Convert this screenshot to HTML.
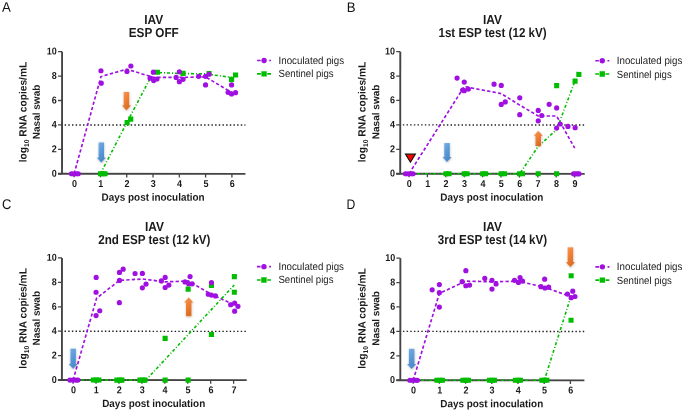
<!DOCTYPE html>
<html><head><meta charset="utf-8">
<style>
html,body{margin:0;padding:0;background:#fff;}
body{width:685px;height:411px;overflow:hidden;}
svg{display:block;filter:blur(0.3px);font-family:"Liberation Sans",sans-serif;}
.let{font-size:14px;fill:#111;}
.ttl{font-size:13px;font-weight:bold;fill:#1a1a1a;}
.yl{font-size:10.5px;font-weight:bold;fill:#1a1a1a;}
.xl{font-size:10.6px;font-weight:bold;fill:#1a1a1a;}
.tk{font-size:10px;font-weight:bold;fill:#1a1a1a;}
.lg{font-size:10.5px;fill:#222;}
</style></head><body>
<svg width="685" height="411" viewBox="0 0 685 411">
<defs>
<linearGradient id="gb" x1="0" y1="0" x2="0.6" y2="1"><stop offset="0" stop-color="#7db0e6"/><stop offset="0.5" stop-color="#5b9ad8"/><stop offset="1" stop-color="#4a86c6"/></linearGradient>
<linearGradient id="go" x1="0" y1="0" x2="0.6" y2="1"><stop offset="0" stop-color="#f39a5a"/><stop offset="0.5" stop-color="#ef7f35"/><stop offset="1" stop-color="#d9691f"/></linearGradient>
<filter id="sh" x="-50%" y="-20%" width="200%" height="150%"><feDropShadow dx="0.3" dy="0.8" stdDeviation="0.8" flood-color="#000" flood-opacity="0.25"/></filter>
</defs>
<g transform="rotate(0.03 342.5 205.5)">
<text x="1.9" y="11.9" class="let" textLength="8.8" lengthAdjust="spacingAndGlyphs">A</text>
<text x="153.7" y="23.9" class="ttl" text-anchor="middle" textLength="19" lengthAdjust="spacingAndGlyphs">IAV</text>
<text x="153.7" y="37.0" class="ttl" text-anchor="middle" textLength="50" lengthAdjust="spacingAndGlyphs">ESP OFF</text>
<text transform="translate(26.5,112.25) rotate(-90)" class="yl" text-anchor="middle" textLength="100.5" lengthAdjust="spacingAndGlyphs">log<tspan font-size="7" dy="2.5">10</tspan><tspan dy="-2.5"> RNA copies/mL</tspan></text>
<text transform="translate(39.8,112.1) rotate(-90)" class="yl" style="font-size:10.1px" text-anchor="middle" textLength="54.6" lengthAdjust="spacingAndGlyphs">Nasal swab</text>
<line x1="64.6" y1="125.10000000000001" x2="245.4" y2="125.10000000000001" stroke="#222" stroke-width="1.35" stroke-dasharray="1.45 2.22"/>
<path d="M62 51.8 V173.9" stroke="#444" stroke-width="1.9" fill="none"/>
<line x1="58" y1="173.9" x2="62" y2="173.9" stroke="#444" stroke-width="1.3"/>
<text transform="translate(56.8,176.8) scale(0.9,1)" class="tk" text-anchor="end">0</text>
<line x1="58" y1="149.48000000000002" x2="62" y2="149.48000000000002" stroke="#444" stroke-width="1.3"/>
<text transform="translate(56.8,152.38000000000002) scale(0.9,1)" class="tk" text-anchor="end">2</text>
<line x1="58" y1="125.06" x2="62" y2="125.06" stroke="#444" stroke-width="1.3"/>
<text transform="translate(56.8,127.96000000000001) scale(0.9,1)" class="tk" text-anchor="end">4</text>
<line x1="58" y1="100.64" x2="62" y2="100.64" stroke="#444" stroke-width="1.3"/>
<text transform="translate(56.8,103.54) scale(0.9,1)" class="tk" text-anchor="end">6</text>
<line x1="58" y1="76.22" x2="62" y2="76.22" stroke="#444" stroke-width="1.3"/>
<text transform="translate(56.8,79.12) scale(0.9,1)" class="tk" text-anchor="end">8</text>
<line x1="58" y1="51.8" x2="62" y2="51.8" stroke="#444" stroke-width="1.3"/>
<text transform="translate(56.8,54.699999999999996) scale(0.9,1)" class="tk" text-anchor="end">10</text>
<path d="M58 173.9 H245.4" stroke="#444" stroke-width="1.9" fill="none"/>
<line x1="74.1" y1="173.9" x2="74.1" y2="177.5" stroke="#444" stroke-width="1.3"/>
<text transform="translate(74.39999999999999,187.1) scale(0.9,1)" class="tk" text-anchor="middle">0</text>
<line x1="100.39999999999999" y1="173.9" x2="100.39999999999999" y2="177.5" stroke="#444" stroke-width="1.3"/>
<text transform="translate(100.69999999999999,187.1) scale(0.9,1)" class="tk" text-anchor="middle">1</text>
<line x1="126.69999999999999" y1="173.9" x2="126.69999999999999" y2="177.5" stroke="#444" stroke-width="1.3"/>
<text transform="translate(126.99999999999999,187.1) scale(0.9,1)" class="tk" text-anchor="middle">2</text>
<line x1="153.0" y1="173.9" x2="153.0" y2="177.5" stroke="#444" stroke-width="1.3"/>
<text transform="translate(153.3,187.1) scale(0.9,1)" class="tk" text-anchor="middle">3</text>
<line x1="179.3" y1="173.9" x2="179.3" y2="177.5" stroke="#444" stroke-width="1.3"/>
<text transform="translate(179.60000000000002,187.1) scale(0.9,1)" class="tk" text-anchor="middle">4</text>
<line x1="205.6" y1="173.9" x2="205.6" y2="177.5" stroke="#444" stroke-width="1.3"/>
<text transform="translate(205.9,187.1) scale(0.9,1)" class="tk" text-anchor="middle">5</text>
<line x1="231.9" y1="173.9" x2="231.9" y2="177.5" stroke="#444" stroke-width="1.3"/>
<text transform="translate(232.20000000000002,187.1) scale(0.9,1)" class="tk" text-anchor="middle">6</text>
<text x="153.1" y="200.9" class="xl" text-anchor="middle" textLength="103" lengthAdjust="spacingAndGlyphs">Days post inoculation</text>
<polyline points="74.1,173.9 100.9,76.7 126.9,69.3 153.3,77.5 179.3,77.5 205.5,77 231.9,92.7" fill="none" stroke="#a010e0" stroke-width="1.65" stroke-dasharray="3.3 2.2"/>
<polyline points="100.4,173.9 127.7,121 153.3,72.5 179.3,73.5 205.5,74 231.9,77.5" fill="none" stroke="#00bd00" stroke-width="1.6" stroke-dasharray="3 2 1 2"/>
<rect x="97.95" y="171.35" width="5.1" height="5.1" fill="#00bd00"/>
<rect x="100.45" y="171.35" width="5.1" height="5.1" fill="#00bd00"/>
<rect x="102.45" y="171.35" width="5.1" height="5.1" fill="#00bd00"/>
<rect x="124.55" y="120.15" width="5.1" height="5.1" fill="#00bd00"/>
<rect x="128.14999999999998" y="116.65" width="5.1" height="5.1" fill="#00bd00"/>
<rect x="154.75" y="69.75" width="5.1" height="5.1" fill="#00bd00"/>
<rect x="180.45" y="70.95" width="5.1" height="5.1" fill="#00bd00"/>
<rect x="206.45" y="70.95" width="5.1" height="5.1" fill="#00bd00"/>
<rect x="228.95" y="76.85000000000001" width="5.1" height="5.1" fill="#00bd00"/>
<rect x="232.95" y="72.45" width="5.1" height="5.1" fill="#00bd00"/>
<circle cx="71.5" cy="173.9" r="2.6" fill="#a010e0"/>
<circle cx="74" cy="173.9" r="2.6" fill="#a010e0"/>
<circle cx="76.5" cy="173.9" r="2.6" fill="#a010e0"/>
<circle cx="78.2" cy="173.9" r="2.6" fill="#a010e0"/>
<circle cx="100.9" cy="70.9" r="2.6" fill="#a010e0"/>
<circle cx="101.2" cy="83.3" r="2.6" fill="#a010e0"/>
<circle cx="126.9" cy="71.6" r="2.6" fill="#a010e0"/>
<circle cx="130.8" cy="66.1" r="2.6" fill="#a010e0"/>
<circle cx="153.3" cy="72.3" r="2.6" fill="#a010e0"/>
<circle cx="150" cy="78.3" r="2.6" fill="#a010e0"/>
<circle cx="153.6" cy="80.7" r="2.6" fill="#a010e0"/>
<circle cx="156.9" cy="79.1" r="2.6" fill="#a010e0"/>
<circle cx="179.3" cy="71.9" r="2.6" fill="#a010e0"/>
<circle cx="176.1" cy="77.5" r="2.6" fill="#a010e0"/>
<circle cx="179.3" cy="81.8" r="2.6" fill="#a010e0"/>
<circle cx="183" cy="79.4" r="2.6" fill="#a010e0"/>
<circle cx="198.6" cy="76.4" r="2.6" fill="#a010e0"/>
<circle cx="205.5" cy="76.4" r="2.6" fill="#a010e0"/>
<circle cx="209" cy="74.3" r="2.6" fill="#a010e0"/>
<circle cx="205.5" cy="85" r="2.6" fill="#a010e0"/>
<circle cx="231.5" cy="85" r="2.6" fill="#a010e0"/>
<circle cx="228" cy="92.4" r="2.6" fill="#a010e0"/>
<circle cx="231.5" cy="94" r="2.6" fill="#a010e0"/>
<circle cx="235.5" cy="92.7" r="2.6" fill="#a010e0"/>
<path d="M98.55 142.4 H104.05 V157.8 H105.89999999999999 L101.3 162.8 L96.7 157.8 H98.55 Z" fill="url(#gb)" filter="url(#sh)"/>
<path d="M123.65 92.1 H129.15 V105.5 H131.0 L126.4 110.5 L121.80000000000001 105.5 H123.65 Z" fill="url(#go)" filter="url(#sh)"/>

<line x1="257" y1="60.6" x2="271" y2="60.6" stroke="#a010e0" stroke-width="1.6" stroke-dasharray="3.6 8.6 1.8"/>
<circle cx="264" cy="60.6" r="2.7" fill="#a010e0"/>
<text x="278.5" y="64.1" class="lg" textLength="65.5" lengthAdjust="spacingAndGlyphs">Inoculated pigs</text>
<line x1="257" y1="73.9" x2="271" y2="73.9" stroke="#00bd00" stroke-width="1.6" stroke-dasharray="3.8 6.4 3.8"/>
<rect x="261.3" y="71.2" width="5.4" height="5.4" fill="#00bd00"/>
<text x="278.5" y="77.4" class="lg" textLength="55" lengthAdjust="spacingAndGlyphs">Sentinel pigs</text>
<text x="346.6" y="11.9" class="let" textLength="8.8" lengthAdjust="spacingAndGlyphs">B</text>
<text x="492.45000000000005" y="23.9" class="ttl" text-anchor="middle" textLength="19" lengthAdjust="spacingAndGlyphs">IAV</text>
<text x="492.45000000000005" y="37.0" class="ttl" text-anchor="middle" textLength="108.2" lengthAdjust="spacingAndGlyphs">1st ESP test (12 kV)</text>
<text transform="translate(365.5,112.04999999999998) rotate(-90)" class="yl" text-anchor="middle" textLength="100.5" lengthAdjust="spacingAndGlyphs">log<tspan font-size="7" dy="2.5">10</tspan><tspan dy="-2.5"> RNA copies/mL</tspan></text>
<text transform="translate(379.2,111.89999999999998) rotate(-90)" class="yl" style="font-size:10.1px" text-anchor="middle" textLength="54.6" lengthAdjust="spacingAndGlyphs">Nasal swab</text>
<line x1="402.8" y1="124.89999999999999" x2="584.7" y2="124.89999999999999" stroke="#222" stroke-width="1.35" stroke-dasharray="1.45 2.22"/>
<path d="M400.2 51.59999999999998 V173.7" stroke="#444" stroke-width="1.9" fill="none"/>
<line x1="396.2" y1="173.7" x2="400.2" y2="173.7" stroke="#444" stroke-width="1.3"/>
<text transform="translate(395.0,176.6) scale(0.9,1)" class="tk" text-anchor="end">0</text>
<line x1="396.2" y1="149.27999999999997" x2="400.2" y2="149.27999999999997" stroke="#444" stroke-width="1.3"/>
<text transform="translate(395.0,152.17999999999998) scale(0.9,1)" class="tk" text-anchor="end">2</text>
<line x1="396.2" y1="124.85999999999999" x2="400.2" y2="124.85999999999999" stroke="#444" stroke-width="1.3"/>
<text transform="translate(395.0,127.75999999999999) scale(0.9,1)" class="tk" text-anchor="end">4</text>
<line x1="396.2" y1="100.43999999999998" x2="400.2" y2="100.43999999999998" stroke="#444" stroke-width="1.3"/>
<text transform="translate(395.0,103.33999999999999) scale(0.9,1)" class="tk" text-anchor="end">6</text>
<line x1="396.2" y1="76.01999999999998" x2="400.2" y2="76.01999999999998" stroke="#444" stroke-width="1.3"/>
<text transform="translate(395.0,78.91999999999999) scale(0.9,1)" class="tk" text-anchor="end">8</text>
<line x1="396.2" y1="51.59999999999998" x2="400.2" y2="51.59999999999998" stroke="#444" stroke-width="1.3"/>
<text transform="translate(395.0,54.49999999999998) scale(0.9,1)" class="tk" text-anchor="end">10</text>
<path d="M396.2 173.7 H584.7" stroke="#444" stroke-width="1.9" fill="none"/>
<line x1="409.0" y1="173.7" x2="409.0" y2="177.29999999999998" stroke="#444" stroke-width="1.3"/>
<text transform="translate(409.3,186.89999999999998) scale(0.9,1)" class="tk" text-anchor="middle">0</text>
<line x1="427.4" y1="173.7" x2="427.4" y2="177.29999999999998" stroke="#444" stroke-width="1.3"/>
<text transform="translate(427.7,186.89999999999998) scale(0.9,1)" class="tk" text-anchor="middle">1</text>
<line x1="445.8" y1="173.7" x2="445.8" y2="177.29999999999998" stroke="#444" stroke-width="1.3"/>
<text transform="translate(446.1,186.89999999999998) scale(0.9,1)" class="tk" text-anchor="middle">2</text>
<line x1="464.2" y1="173.7" x2="464.2" y2="177.29999999999998" stroke="#444" stroke-width="1.3"/>
<text transform="translate(464.5,186.89999999999998) scale(0.9,1)" class="tk" text-anchor="middle">3</text>
<line x1="482.6" y1="173.7" x2="482.6" y2="177.29999999999998" stroke="#444" stroke-width="1.3"/>
<text transform="translate(482.90000000000003,186.89999999999998) scale(0.9,1)" class="tk" text-anchor="middle">4</text>
<line x1="501.0" y1="173.7" x2="501.0" y2="177.29999999999998" stroke="#444" stroke-width="1.3"/>
<text transform="translate(501.3,186.89999999999998) scale(0.9,1)" class="tk" text-anchor="middle">5</text>
<line x1="519.4" y1="173.7" x2="519.4" y2="177.29999999999998" stroke="#444" stroke-width="1.3"/>
<text transform="translate(519.6999999999999,186.89999999999998) scale(0.9,1)" class="tk" text-anchor="middle">6</text>
<line x1="537.8" y1="173.7" x2="537.8" y2="177.29999999999998" stroke="#444" stroke-width="1.3"/>
<text transform="translate(538.0999999999999,186.89999999999998) scale(0.9,1)" class="tk" text-anchor="middle">7</text>
<line x1="556.2" y1="173.7" x2="556.2" y2="177.29999999999998" stroke="#444" stroke-width="1.3"/>
<text transform="translate(556.5,186.89999999999998) scale(0.9,1)" class="tk" text-anchor="middle">8</text>
<line x1="574.6" y1="173.7" x2="574.6" y2="177.29999999999998" stroke="#444" stroke-width="1.3"/>
<text transform="translate(574.9,186.89999999999998) scale(0.9,1)" class="tk" text-anchor="middle">9</text>
<text x="491.85" y="200.7" class="xl" text-anchor="middle" textLength="103" lengthAdjust="spacingAndGlyphs">Days post inoculation</text>
<polyline points="409,173.7 464.2,86.5 501.2,93.5 519.6,105 538.2,115.9 556.6,115.9 574.7,148" fill="none" stroke="#a010e0" stroke-width="1.65" stroke-dasharray="3.3 2.2"/>
<polyline points="409,173.7 519.6,173.7 538.2,146.3 556.6,129.5 574.7,81.4" fill="none" stroke="#00bd00" stroke-width="1.6" stroke-dasharray="3 2 1 2"/>
<rect x="443.45" y="171.14999999999998" width="5.1" height="5.1" fill="#00bd00"/>
<rect x="446.45" y="171.14999999999998" width="5.1" height="5.1" fill="#00bd00"/>
<rect x="461.65" y="171.14999999999998" width="5.1" height="5.1" fill="#00bd00"/>
<rect x="464.45" y="171.14999999999998" width="5.1" height="5.1" fill="#00bd00"/>
<rect x="480.15" y="171.14999999999998" width="5.1" height="5.1" fill="#00bd00"/>
<rect x="482.95" y="171.14999999999998" width="5.1" height="5.1" fill="#00bd00"/>
<rect x="498.65" y="171.14999999999998" width="5.1" height="5.1" fill="#00bd00"/>
<rect x="501.95" y="171.14999999999998" width="5.1" height="5.1" fill="#00bd00"/>
<rect x="517.0500000000001" y="171.14999999999998" width="5.1" height="5.1" fill="#00bd00"/>
<rect x="519.95" y="171.14999999999998" width="5.1" height="5.1" fill="#00bd00"/>
<rect x="535.6500000000001" y="171.14999999999998" width="5.1" height="5.1" fill="#00bd00"/>
<rect x="554.0500000000001" y="171.14999999999998" width="5.1" height="5.1" fill="#00bd00"/>
<rect x="554.0500000000001" y="82.95" width="5.1" height="5.1" fill="#00bd00"/>
<rect x="572.45" y="78.45" width="5.1" height="5.1" fill="#00bd00"/>
<rect x="576.25" y="71.75" width="5.1" height="5.1" fill="#00bd00"/>
<circle cx="405.5" cy="173.7" r="2.6" fill="#a010e0"/>
<circle cx="408" cy="173.7" r="2.6" fill="#a010e0"/>
<circle cx="411" cy="173.7" r="2.6" fill="#a010e0"/>
<circle cx="413" cy="173.7" r="2.6" fill="#a010e0"/>
<circle cx="457" cy="78" r="2.6" fill="#a010e0"/>
<circle cx="464.2" cy="82" r="2.6" fill="#a010e0"/>
<circle cx="464.2" cy="90.6" r="2.6" fill="#a010e0"/>
<circle cx="468.3" cy="89" r="2.6" fill="#a010e0"/>
<circle cx="462.6" cy="90" r="2.6" fill="#a010e0"/>
<circle cx="494" cy="84.1" r="2.6" fill="#a010e0"/>
<circle cx="501.2" cy="85.3" r="2.6" fill="#a010e0"/>
<circle cx="501.2" cy="104.3" r="2.6" fill="#a010e0"/>
<circle cx="505.2" cy="101.8" r="2.6" fill="#a010e0"/>
<circle cx="519.7" cy="97.7" r="2.6" fill="#a010e0"/>
<circle cx="519.7" cy="114.6" r="2.6" fill="#a010e0"/>
<circle cx="538.2" cy="110.3" r="2.6" fill="#a010e0"/>
<circle cx="541.7" cy="115.4" r="2.6" fill="#a010e0"/>
<circle cx="538.2" cy="120.7" r="2.6" fill="#a010e0"/>
<circle cx="549.1" cy="104.2" r="2.6" fill="#a010e0"/>
<circle cx="556.6" cy="107.8" r="2.6" fill="#a010e0"/>
<circle cx="560.2" cy="123.9" r="2.6" fill="#a010e0"/>
<circle cx="556.6" cy="127.9" r="2.6" fill="#a010e0"/>
<circle cx="567.9" cy="126.3" r="2.6" fill="#a010e0"/>
<circle cx="575.1" cy="127.6" r="2.6" fill="#a010e0"/>
<circle cx="573.5" cy="173.7" r="2.6" fill="#a010e0"/>
<circle cx="575.5" cy="173.7" r="2.6" fill="#a010e0"/>
<circle cx="577.5" cy="173.7" r="2.6" fill="#a010e0"/>
<circle cx="579" cy="173.7" r="2.6" fill="#a010e0"/>
<path d="M444.25 143 H449.75 V156.9 H451.6 L447 161.9 L442.4 156.9 H444.25 Z" fill="url(#gb)" filter="url(#sh)"/>
<path d="M535.45 146.1 H540.95 V135.7 H542.8000000000001 L538.2 130.7 L533.6 135.7 H535.45 Z" fill="url(#go)" filter="url(#sh)"/>
<path d="M405.4 154.1 H415.4 L410.4 162.2 Z" fill="#ff0000" stroke="#111" stroke-width="1.1" stroke-linejoin="miter"/>
<line x1="595.2" y1="60.6" x2="609.2" y2="60.6" stroke="#a010e0" stroke-width="1.6" stroke-dasharray="3.6 8.6 1.8"/>
<circle cx="602.2" cy="60.6" r="2.7" fill="#a010e0"/>
<text x="616.7" y="64.1" class="lg" textLength="65.5" lengthAdjust="spacingAndGlyphs">Inoculated pigs</text>
<line x1="595.2" y1="73.9" x2="609.2" y2="73.9" stroke="#00bd00" stroke-width="1.6" stroke-dasharray="3.8 6.4 3.8"/>
<rect x="599.5" y="71.2" width="5.4" height="5.4" fill="#00bd00"/>
<text x="616.7" y="77.4" class="lg" textLength="55" lengthAdjust="spacingAndGlyphs">Sentinel pigs</text>
<text x="2.0" y="209.4" class="let" textLength="9.4" lengthAdjust="spacingAndGlyphs">C</text>
<text x="154.4" y="230.8" class="ttl" text-anchor="middle" textLength="19" lengthAdjust="spacingAndGlyphs">IAV</text>
<text x="154.4" y="243.9" class="ttl" text-anchor="middle" textLength="112.2" lengthAdjust="spacingAndGlyphs">2nd ESP test (12 kV)</text>
<text transform="translate(26.5,318.54999999999995) rotate(-90)" class="yl" text-anchor="middle" textLength="100.5" lengthAdjust="spacingAndGlyphs">log<tspan font-size="7" dy="2.5">10</tspan><tspan dy="-2.5"> RNA copies/mL</tspan></text>
<text transform="translate(39.8,318.4) rotate(-90)" class="yl" style="font-size:10.1px" text-anchor="middle" textLength="54.6" lengthAdjust="spacingAndGlyphs">Nasal swab</text>
<line x1="64.6" y1="331.4" x2="246.8" y2="331.4" stroke="#222" stroke-width="1.35" stroke-dasharray="1.45 2.22"/>
<path d="M62 258.09999999999997 V380.2" stroke="#444" stroke-width="1.9" fill="none"/>
<line x1="58" y1="380.2" x2="62" y2="380.2" stroke="#444" stroke-width="1.3"/>
<text transform="translate(56.8,383.09999999999997) scale(0.9,1)" class="tk" text-anchor="end">0</text>
<line x1="58" y1="355.78" x2="62" y2="355.78" stroke="#444" stroke-width="1.3"/>
<text transform="translate(56.8,358.67999999999995) scale(0.9,1)" class="tk" text-anchor="end">2</text>
<line x1="58" y1="331.36" x2="62" y2="331.36" stroke="#444" stroke-width="1.3"/>
<text transform="translate(56.8,334.26) scale(0.9,1)" class="tk" text-anchor="end">4</text>
<line x1="58" y1="306.94" x2="62" y2="306.94" stroke="#444" stroke-width="1.3"/>
<text transform="translate(56.8,309.84) scale(0.9,1)" class="tk" text-anchor="end">6</text>
<line x1="58" y1="282.52" x2="62" y2="282.52" stroke="#444" stroke-width="1.3"/>
<text transform="translate(56.8,285.41999999999996) scale(0.9,1)" class="tk" text-anchor="end">8</text>
<line x1="58" y1="258.09999999999997" x2="62" y2="258.09999999999997" stroke="#444" stroke-width="1.3"/>
<text transform="translate(56.8,260.99999999999994) scale(0.9,1)" class="tk" text-anchor="end">10</text>
<path d="M58 380.2 H246.8" stroke="#444" stroke-width="1.9" fill="none"/>
<line x1="73.2" y1="380.2" x2="73.2" y2="383.8" stroke="#444" stroke-width="1.3"/>
<text transform="translate(73.5,393.4) scale(0.9,1)" class="tk" text-anchor="middle">0</text>
<line x1="96.13" y1="380.2" x2="96.13" y2="383.8" stroke="#444" stroke-width="1.3"/>
<text transform="translate(96.42999999999999,393.4) scale(0.9,1)" class="tk" text-anchor="middle">1</text>
<line x1="119.06" y1="380.2" x2="119.06" y2="383.8" stroke="#444" stroke-width="1.3"/>
<text transform="translate(119.36,393.4) scale(0.9,1)" class="tk" text-anchor="middle">2</text>
<line x1="141.99" y1="380.2" x2="141.99" y2="383.8" stroke="#444" stroke-width="1.3"/>
<text transform="translate(142.29000000000002,393.4) scale(0.9,1)" class="tk" text-anchor="middle">3</text>
<line x1="164.92000000000002" y1="380.2" x2="164.92000000000002" y2="383.8" stroke="#444" stroke-width="1.3"/>
<text transform="translate(165.22000000000003,393.4) scale(0.9,1)" class="tk" text-anchor="middle">4</text>
<line x1="187.85000000000002" y1="380.2" x2="187.85000000000002" y2="383.8" stroke="#444" stroke-width="1.3"/>
<text transform="translate(188.15000000000003,393.4) scale(0.9,1)" class="tk" text-anchor="middle">5</text>
<line x1="210.77999999999997" y1="380.2" x2="210.77999999999997" y2="383.8" stroke="#444" stroke-width="1.3"/>
<text transform="translate(211.07999999999998,393.4) scale(0.9,1)" class="tk" text-anchor="middle">6</text>
<line x1="233.70999999999998" y1="380.2" x2="233.70999999999998" y2="383.8" stroke="#444" stroke-width="1.3"/>
<text transform="translate(234.01,393.4) scale(0.9,1)" class="tk" text-anchor="middle">7</text>
<text x="153.8" y="407.2" class="xl" text-anchor="middle" textLength="103" lengthAdjust="spacingAndGlyphs">Days post inoculation</text>
<polyline points="73.2,380.2 96.6,298.4 119.5,280.5 142.4,279.1 165.2,282 188.2,281 211.1,294.3 234.3,304.8" fill="none" stroke="#a010e0" stroke-width="1.65" stroke-dasharray="3.3 2.2"/>
<polyline points="73.2,380.2 146,380.2 234.3,285" fill="none" stroke="#00bd00" stroke-width="1.6" stroke-dasharray="3 2 1 2"/>
<rect x="90.95" y="377.65" width="5.1" height="5.1" fill="#00bd00"/>
<rect x="93.95" y="377.65" width="5.1" height="5.1" fill="#00bd00"/>
<rect x="96.45" y="377.65" width="5.1" height="5.1" fill="#00bd00"/>
<rect x="114.45" y="377.65" width="5.1" height="5.1" fill="#00bd00"/>
<rect x="117.45" y="377.65" width="5.1" height="5.1" fill="#00bd00"/>
<rect x="119.45" y="377.65" width="5.1" height="5.1" fill="#00bd00"/>
<rect x="137.45" y="377.65" width="5.1" height="5.1" fill="#00bd00"/>
<rect x="140.45" y="377.65" width="5.1" height="5.1" fill="#00bd00"/>
<rect x="142.45" y="377.65" width="5.1" height="5.1" fill="#00bd00"/>
<rect x="162.64999999999998" y="377.65" width="5.1" height="5.1" fill="#00bd00"/>
<rect x="185.64999999999998" y="377.65" width="5.1" height="5.1" fill="#00bd00"/>
<rect x="162.64999999999998" y="335.95" width="5.1" height="5.1" fill="#00bd00"/>
<rect x="208.95" y="331.95" width="5.1" height="5.1" fill="#00bd00"/>
<rect x="185.64999999999998" y="286.65" width="5.1" height="5.1" fill="#00bd00"/>
<rect x="208.95" y="282.95" width="5.1" height="5.1" fill="#00bd00"/>
<rect x="231.85" y="274.15" width="5.1" height="5.1" fill="#00bd00"/>
<rect x="231.85" y="289.75" width="5.1" height="5.1" fill="#00bd00"/>
<circle cx="70" cy="380.2" r="2.6" fill="#a010e0"/>
<circle cx="73" cy="380.2" r="2.6" fill="#a010e0"/>
<circle cx="76" cy="380.2" r="2.6" fill="#a010e0"/>
<circle cx="78" cy="380.2" r="2.6" fill="#a010e0"/>
<circle cx="96.2" cy="277.6" r="2.6" fill="#a010e0"/>
<circle cx="96.1" cy="292.4" r="2.6" fill="#a010e0"/>
<circle cx="96.1" cy="315.7" r="2.6" fill="#a010e0"/>
<circle cx="99.8" cy="310.9" r="2.6" fill="#a010e0"/>
<circle cx="119.5" cy="272.5" r="2.6" fill="#a010e0"/>
<circle cx="123.2" cy="269.3" r="2.6" fill="#a010e0"/>
<circle cx="119.5" cy="280.5" r="2.6" fill="#a010e0"/>
<circle cx="119.4" cy="302.8" r="2.6" fill="#a010e0"/>
<circle cx="142.4" cy="273.5" r="2.6" fill="#a010e0"/>
<circle cx="135.1" cy="273.6" r="2.6" fill="#a010e0"/>
<circle cx="142.4" cy="287.9" r="2.6" fill="#a010e0"/>
<circle cx="146.1" cy="284.2" r="2.6" fill="#a010e0"/>
<circle cx="161.4" cy="281" r="2.6" fill="#a010e0"/>
<circle cx="165.2" cy="277.5" r="2.6" fill="#a010e0"/>
<circle cx="165.2" cy="287.6" r="2.6" fill="#a010e0"/>
<circle cx="168.9" cy="285.2" r="2.6" fill="#a010e0"/>
<circle cx="190.1" cy="276.7" r="2.6" fill="#a010e0"/>
<circle cx="185" cy="282" r="2.6" fill="#a010e0"/>
<circle cx="188.7" cy="283.9" r="2.6" fill="#a010e0"/>
<circle cx="192.2" cy="283.9" r="2.6" fill="#a010e0"/>
<circle cx="211.5" cy="282.6" r="2.6" fill="#a010e0"/>
<circle cx="208.3" cy="294.3" r="2.6" fill="#a010e0"/>
<circle cx="211.5" cy="295.1" r="2.6" fill="#a010e0"/>
<circle cx="215.5" cy="296" r="2.6" fill="#a010e0"/>
<circle cx="230.7" cy="304.8" r="2.6" fill="#a010e0"/>
<circle cx="234.7" cy="303.2" r="2.6" fill="#a010e0"/>
<circle cx="238" cy="306.4" r="2.6" fill="#a010e0"/>
<circle cx="234.7" cy="311.2" r="2.6" fill="#a010e0"/>
<path d="M70.45 348.8 H75.95 V363.9 H77.8 L73.2 368.9 L68.60000000000001 363.9 H70.45 Z" fill="url(#gb)" filter="url(#sh)"/>
<path d="M185.95 316.2 H191.45 V302.6 H193.29999999999998 L188.7 297.6 L184.1 302.6 H185.95 Z" fill="url(#go)" filter="url(#sh)"/>

<line x1="257" y1="266.7" x2="271" y2="266.7" stroke="#a010e0" stroke-width="1.6" stroke-dasharray="3.6 8.6 1.8"/>
<circle cx="264" cy="266.7" r="2.7" fill="#a010e0"/>
<text x="278.5" y="270.2" class="lg" textLength="65.5" lengthAdjust="spacingAndGlyphs">Inoculated pigs</text>
<line x1="257" y1="280.0" x2="271" y2="280.0" stroke="#00bd00" stroke-width="1.6" stroke-dasharray="3.8 6.4 3.8"/>
<rect x="261.3" y="277.3" width="5.4" height="5.4" fill="#00bd00"/>
<text x="278.5" y="283.5" class="lg" textLength="55" lengthAdjust="spacingAndGlyphs">Sentinel pigs</text>
<text x="346.6" y="209.1" class="let" textLength="8.8" lengthAdjust="spacingAndGlyphs">D</text>
<text x="492.45" y="230.8" class="ttl" text-anchor="middle" textLength="19" lengthAdjust="spacingAndGlyphs">IAV</text>
<text x="492.45" y="243.9" class="ttl" text-anchor="middle" textLength="109.5" lengthAdjust="spacingAndGlyphs">3rd ESP test (14 kV)</text>
<text transform="translate(365.5,318.54999999999995) rotate(-90)" class="yl" text-anchor="middle" textLength="100.5" lengthAdjust="spacingAndGlyphs">log<tspan font-size="7" dy="2.5">10</tspan><tspan dy="-2.5"> RNA copies/mL</tspan></text>
<text transform="translate(379.2,318.4) rotate(-90)" class="yl" style="font-size:10.1px" text-anchor="middle" textLength="54.6" lengthAdjust="spacingAndGlyphs">Nasal swab</text>
<line x1="403.0" y1="331.4" x2="584.5" y2="331.4" stroke="#222" stroke-width="1.35" stroke-dasharray="1.45 2.22"/>
<path d="M400.4 258.09999999999997 V380.2" stroke="#444" stroke-width="1.9" fill="none"/>
<line x1="396.4" y1="380.2" x2="400.4" y2="380.2" stroke="#444" stroke-width="1.3"/>
<text transform="translate(395.2,383.09999999999997) scale(0.9,1)" class="tk" text-anchor="end">0</text>
<line x1="396.4" y1="355.78" x2="400.4" y2="355.78" stroke="#444" stroke-width="1.3"/>
<text transform="translate(395.2,358.67999999999995) scale(0.9,1)" class="tk" text-anchor="end">2</text>
<line x1="396.4" y1="331.36" x2="400.4" y2="331.36" stroke="#444" stroke-width="1.3"/>
<text transform="translate(395.2,334.26) scale(0.9,1)" class="tk" text-anchor="end">4</text>
<line x1="396.4" y1="306.94" x2="400.4" y2="306.94" stroke="#444" stroke-width="1.3"/>
<text transform="translate(395.2,309.84) scale(0.9,1)" class="tk" text-anchor="end">6</text>
<line x1="396.4" y1="282.52" x2="400.4" y2="282.52" stroke="#444" stroke-width="1.3"/>
<text transform="translate(395.2,285.41999999999996) scale(0.9,1)" class="tk" text-anchor="end">8</text>
<line x1="396.4" y1="258.09999999999997" x2="400.4" y2="258.09999999999997" stroke="#444" stroke-width="1.3"/>
<text transform="translate(395.2,260.99999999999994) scale(0.9,1)" class="tk" text-anchor="end">10</text>
<path d="M396.4 380.2 H584.5" stroke="#444" stroke-width="1.9" fill="none"/>
<line x1="413.3" y1="380.2" x2="413.3" y2="383.8" stroke="#444" stroke-width="1.3"/>
<text transform="translate(413.6,393.4) scale(0.9,1)" class="tk" text-anchor="middle">0</text>
<line x1="439.5" y1="380.2" x2="439.5" y2="383.8" stroke="#444" stroke-width="1.3"/>
<text transform="translate(439.8,393.4) scale(0.9,1)" class="tk" text-anchor="middle">1</text>
<line x1="465.7" y1="380.2" x2="465.7" y2="383.8" stroke="#444" stroke-width="1.3"/>
<text transform="translate(466.0,393.4) scale(0.9,1)" class="tk" text-anchor="middle">2</text>
<line x1="491.9" y1="380.2" x2="491.9" y2="383.8" stroke="#444" stroke-width="1.3"/>
<text transform="translate(492.2,393.4) scale(0.9,1)" class="tk" text-anchor="middle">3</text>
<line x1="518.1" y1="380.2" x2="518.1" y2="383.8" stroke="#444" stroke-width="1.3"/>
<text transform="translate(518.4,393.4) scale(0.9,1)" class="tk" text-anchor="middle">4</text>
<line x1="544.3" y1="380.2" x2="544.3" y2="383.8" stroke="#444" stroke-width="1.3"/>
<text transform="translate(544.5999999999999,393.4) scale(0.9,1)" class="tk" text-anchor="middle">5</text>
<line x1="570.5" y1="380.2" x2="570.5" y2="383.8" stroke="#444" stroke-width="1.3"/>
<text transform="translate(570.8,393.4) scale(0.9,1)" class="tk" text-anchor="middle">6</text>
<text x="491.84999999999997" y="407.2" class="xl" text-anchor="middle" textLength="103" lengthAdjust="spacingAndGlyphs">Days post inoculation</text>
<polyline points="413.3,380.2 439.4,293.4 465.9,281 492,281.8 518.2,281 544.4,287.1 570.6,296.4" fill="none" stroke="#a010e0" stroke-width="1.65" stroke-dasharray="3.3 2.2"/>
<polyline points="413.3,380.2 544.4,380.2 570.6,297.5" fill="none" stroke="#00bd00" stroke-width="1.6" stroke-dasharray="3 2 1 2"/>
<rect x="434.45" y="377.65" width="5.1" height="5.1" fill="#00bd00"/>
<rect x="437.45" y="377.65" width="5.1" height="5.1" fill="#00bd00"/>
<rect x="439.95" y="377.65" width="5.1" height="5.1" fill="#00bd00"/>
<rect x="460.45" y="377.65" width="5.1" height="5.1" fill="#00bd00"/>
<rect x="463.45" y="377.65" width="5.1" height="5.1" fill="#00bd00"/>
<rect x="465.95" y="377.65" width="5.1" height="5.1" fill="#00bd00"/>
<rect x="486.95" y="377.65" width="5.1" height="5.1" fill="#00bd00"/>
<rect x="489.95" y="377.65" width="5.1" height="5.1" fill="#00bd00"/>
<rect x="491.95" y="377.65" width="5.1" height="5.1" fill="#00bd00"/>
<rect x="512.95" y="377.65" width="5.1" height="5.1" fill="#00bd00"/>
<rect x="515.95" y="377.65" width="5.1" height="5.1" fill="#00bd00"/>
<rect x="517.95" y="377.65" width="5.1" height="5.1" fill="#00bd00"/>
<rect x="539.45" y="377.65" width="5.1" height="5.1" fill="#00bd00"/>
<rect x="541.95" y="377.65" width="5.1" height="5.1" fill="#00bd00"/>
<rect x="544.45" y="377.65" width="5.1" height="5.1" fill="#00bd00"/>
<rect x="568.6500000000001" y="273.05" width="5.1" height="5.1" fill="#00bd00"/>
<rect x="568.5500000000001" y="317.55" width="5.1" height="5.1" fill="#00bd00"/>
<circle cx="410" cy="380.2" r="2.6" fill="#a010e0"/>
<circle cx="413" cy="380.2" r="2.6" fill="#a010e0"/>
<circle cx="416" cy="380.2" r="2.6" fill="#a010e0"/>
<circle cx="417.5" cy="380.2" r="2.6" fill="#a010e0"/>
<circle cx="432.2" cy="289.8" r="2.6" fill="#a010e0"/>
<circle cx="439.4" cy="284.5" r="2.6" fill="#a010e0"/>
<circle cx="439.4" cy="292.6" r="2.6" fill="#a010e0"/>
<circle cx="439.4" cy="307" r="2.6" fill="#a010e0"/>
<circle cx="462.2" cy="281.6" r="2.6" fill="#a010e0"/>
<circle cx="465.9" cy="270.6" r="2.6" fill="#a010e0"/>
<circle cx="465.9" cy="285.7" r="2.6" fill="#a010e0"/>
<circle cx="469.6" cy="285" r="2.6" fill="#a010e0"/>
<circle cx="484.8" cy="278.3" r="2.6" fill="#a010e0"/>
<circle cx="492" cy="280.2" r="2.6" fill="#a010e0"/>
<circle cx="496.1" cy="283.9" r="2.6" fill="#a010e0"/>
<circle cx="492" cy="289" r="2.6" fill="#a010e0"/>
<circle cx="514.5" cy="280.2" r="2.6" fill="#a010e0"/>
<circle cx="520.1" cy="277.5" r="2.6" fill="#a010e0"/>
<circle cx="518.5" cy="282.3" r="2.6" fill="#a010e0"/>
<circle cx="522.6" cy="281" r="2.6" fill="#a010e0"/>
<circle cx="544.7" cy="279.1" r="2.6" fill="#a010e0"/>
<circle cx="541" cy="286.6" r="2.6" fill="#a010e0"/>
<circle cx="545" cy="287.9" r="2.6" fill="#a010e0"/>
<circle cx="548.7" cy="287.1" r="2.6" fill="#a010e0"/>
<circle cx="572.8" cy="291.1" r="2.6" fill="#a010e0"/>
<circle cx="567.5" cy="294" r="2.6" fill="#a010e0"/>
<circle cx="571.2" cy="297.6" r="2.6" fill="#a010e0"/>
<circle cx="575" cy="296.4" r="2.6" fill="#a010e0"/>
<path d="M408.95 348.8 H414.45 V363.9 H416.3 L411.7 368.9 L407.09999999999997 363.9 H408.95 Z" fill="url(#gb)" filter="url(#sh)"/>
<path d="M567.65 247.3 H573.15 V262.0 H575.0 L570.4 267 L565.8 262.0 H567.65 Z" fill="url(#go)" filter="url(#sh)"/>

<line x1="595.4" y1="266.7" x2="609.4" y2="266.7" stroke="#a010e0" stroke-width="1.6" stroke-dasharray="3.6 8.6 1.8"/>
<circle cx="602.4" cy="266.7" r="2.7" fill="#a010e0"/>
<text x="616.9" y="270.2" class="lg" textLength="65.5" lengthAdjust="spacingAndGlyphs">Inoculated pigs</text>
<line x1="595.4" y1="280.0" x2="609.4" y2="280.0" stroke="#00bd00" stroke-width="1.6" stroke-dasharray="3.8 6.4 3.8"/>
<rect x="599.6999999999999" y="277.3" width="5.4" height="5.4" fill="#00bd00"/>
<text x="616.9" y="283.5" class="lg" textLength="55" lengthAdjust="spacingAndGlyphs">Sentinel pigs</text>
</g>
</svg>
</body></html>
